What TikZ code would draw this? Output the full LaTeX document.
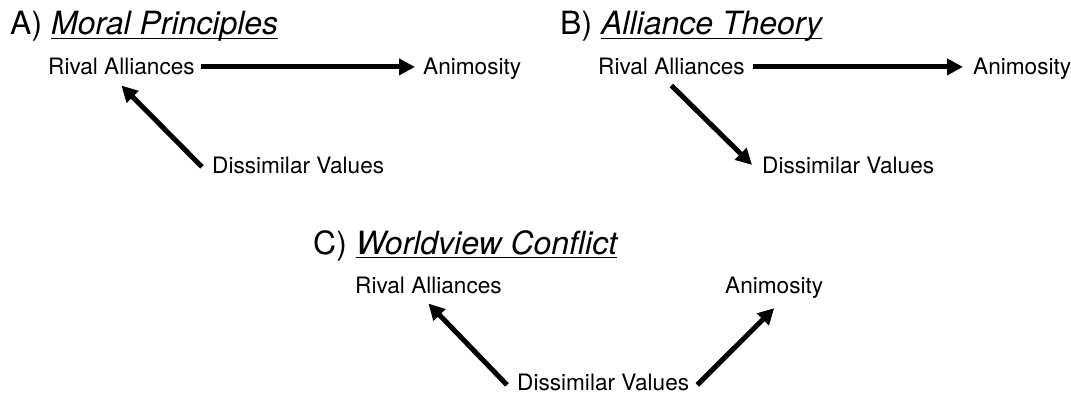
\documentclass[tikz,border=0pt]{standalone}
\usepackage{fontspec}
\setmainfont{TeX Gyre Heros}
\usetikzlibrary{arrows.meta}
\tikzset{
  lbl/.style={font=\fontsize{22.6}{26}\selectfont, inner sep=0pt, anchor=base west},
  ttl/.style={font=\fontsize{32}{37}\selectfont, inner sep=0pt, anchor=base west},
  arr/.style={line width=5pt, -{Triangle[length=16pt,width=16pt]}},
  uline/.style={line width=1.4pt}
}
\begin{document}
\begin{tikzpicture}[x=1pt,y=-1pt]
\useasboundingbox (0,0) rectangle (1071,393);
% Panel A
\node[ttl] (tA) at (10,35) {A)};
\node[ttl] (tAi) at ([xshift=8.5pt]tA.base east) {\itshape Moral Principles};
\draw[uline] ([yshift=-3.5pt]tAi.base west) -- ([yshift=-3.5pt]tAi.base east);
\node[lbl] (raA) at (48,75) {Rival Alliances};
\node[lbl] (anA) at (423,75) {Animosity};
\node[lbl] (dvA) at (212,173) {Dissimilar Values};
\draw[arr] ([xshift=6pt]raA.east) -- ([xshift=-8pt]anA.west |- raA.east);
\draw[arr] ([xshift=-10pt,yshift=-2pt]dvA.west) -- ([yshift=-10pt]raA.south);
% Panel B
\node[ttl] (tB) at (560,35) {B)};
\node[ttl] (tBi) at ([xshift=8.5pt]tB.base east) {\itshape Alliance Theory};
\draw[uline] ([yshift=-3.5pt]tBi.base west) -- ([yshift=-3.5pt]tBi.base east);
\node[lbl] (raB) at (598,75) {Rival Alliances};
\node[lbl] (anB) at (973,75) {Animosity};
\node[lbl] (dvB) at (762,173) {Dissimilar Values};
\draw[arr] ([xshift=8pt]raB.east) -- ([xshift=-10pt]anB.west |- raB.east);
\draw[arr] ([yshift=-10pt]raB.south) -- ([xshift=-10pt]dvB.west);
% Panel C
\node[ttl] (tC) at (313,254) {C)};
\node[ttl] (tCi) at ([xshift=8.5pt]tC.base east) {\itshape Worldview Conflict};
\draw[uline] ([yshift=-3.5pt]tCi.base west) -- ([yshift=-3.5pt]tCi.base east);
\node[lbl] (raC) at (355,293) {Rival Alliances};
\node[lbl] (anC) at (725,293) {Animosity};
\node[lbl] (dvC) at (517,390) {Dissimilar Values};
\draw[arr] ([xshift=-10pt,yshift=-3pt]dvC.west) -- ([yshift=-10pt]raC.south);
\draw[arr] ([xshift=8pt,yshift=-3pt]dvC.east) -- ([yshift=-10pt]anC.south);
\end{tikzpicture}
\end{document}
